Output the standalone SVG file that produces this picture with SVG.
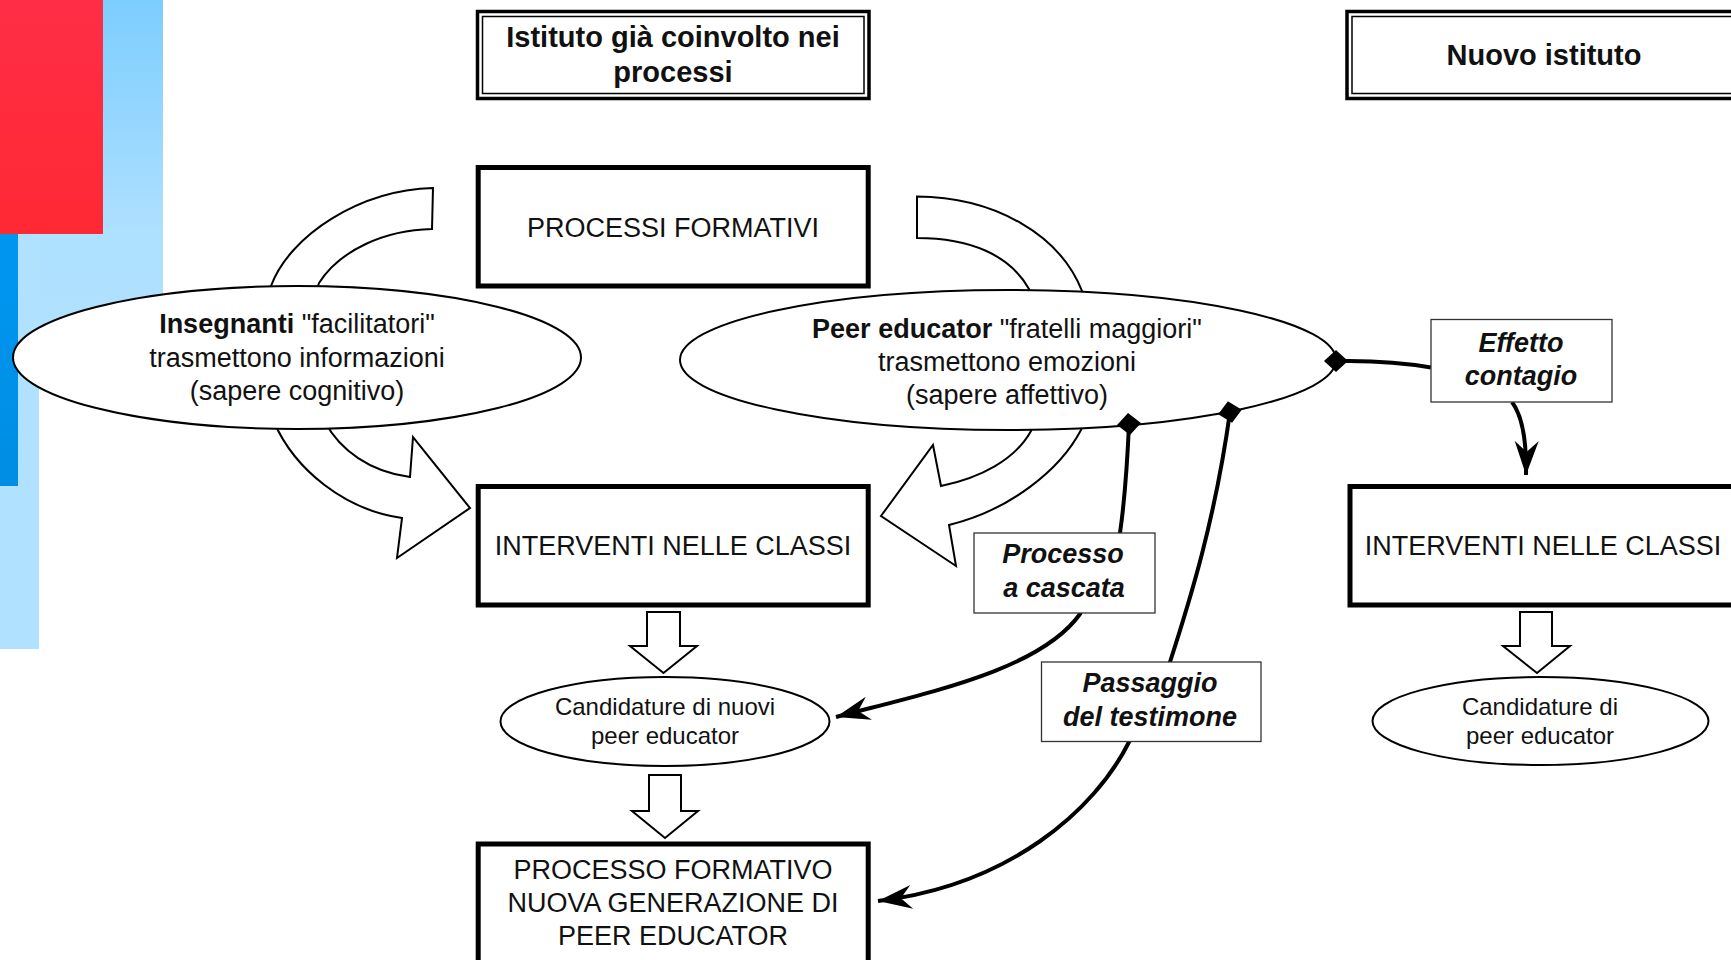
<svg xmlns="http://www.w3.org/2000/svg" width="1731" height="960" viewBox="0 0 1731 960">
<defs>
<linearGradient id="gBlueL" x1="0" y1="0" x2="0" y2="1">
<stop offset="0" stop-color="#7ccdff"/><stop offset="0.65" stop-color="#aee0ff"/><stop offset="1" stop-color="#b0e1ff"/>
</linearGradient>
<linearGradient id="gRed" x1="0" y1="0" x2="0" y2="1">
<stop offset="0" stop-color="#ff2e46"/><stop offset="1" stop-color="#ff2934"/>
</linearGradient>
<linearGradient id="gBlue" x1="0" y1="0" x2="0" y2="1">
<stop offset="0" stop-color="#0097f1"/><stop offset="1" stop-color="#008de3"/>
</linearGradient>
<marker id="ah" markerUnits="userSpaceOnUse" viewBox="-36 -14 38 28" refX="0" refY="0" markerWidth="38" markerHeight="28" orient="auto">
<path d="M0,0 L-34,-12 L-23,0 L-34,12 Z" fill="#000"/>
</marker>
</defs>
<style>
.box{fill:#fff;stroke:#000;stroke-width:5}
.ell{fill:#fff;stroke:#000;stroke-width:2}
.blk{fill:#fff;stroke:#000;stroke-width:2;stroke-linejoin:miter}
.lbl{fill:#fff;stroke:#333;stroke-width:1.3}
.con{fill:none;stroke:#000;stroke-width:4}
.dia{fill:#000}
text{font-family:"Liberation Sans",Arial,sans-serif;fill:#111;text-anchor:middle}
.t27{font-size:27px}
.t24{font-size:24px}
.ttl{font-size:29px;font-weight:bold}
.lab{font-size:27px;font-weight:bold;font-style:italic}
</style>
<rect width="1731" height="960" fill="#fff"/>
<g id="decoration">
<rect x="0" y="0" width="163" height="355" fill="url(#gBlueL)"/>
<rect x="0" y="0" width="39" height="649" fill="#b0e1ff"/>
<rect x="0" y="0" width="103" height="234" fill="url(#gRed)"/>
<rect x="0" y="234" width="18" height="252" fill="url(#gBlue)"/>
</g>
<g id="curved-arrows">
<path class="blk" d="M433,188 C360,190 290,235 271,286 C255,330 255,390 274,422 C295,470 345,510 402,518 L397,558 L470,508 L413,437 L410,477 C370,472 340,450 325,422 C305,385 305,320 319,283 C340,250 385,230 432,229 Z"/>
<path class="blk" d="M917,196.5 C995,197 1060,235 1082,291 C1100,340 1100,400 1081,430 C1060,470 1010,510 949,525 L956,566 L881,516 L933,445 L941,486 C980,478 1015,460 1031,431 C1050,390 1050,330 1029,289 C1010,255 970,238 917,238 Z"/>
</g>
<g id="title-left">
<rect x="477.5" y="11.5" width="391.5" height="87" fill="#fff" stroke="#000" stroke-width="3.5"/>
<rect x="482.5" y="16.5" width="381.5" height="77" fill="none" stroke="#000" stroke-width="1.5"/>
<text class="ttl" x="673" y="47">Istituto già coinvolto nei</text>
<text class="ttl" x="673" y="82">processi</text>
</g>
<g id="title-right">
<rect x="1347" y="11.5" width="420" height="87" fill="#fff" stroke="#000" stroke-width="3.5"/>
<rect x="1352" y="16.5" width="420" height="77" fill="none" stroke="#000" stroke-width="1.5"/>
<text class="ttl" x="1544" y="65">Nuovo istituto</text>
</g>
<g id="processi-formativi">
<rect class="box" x="478.2" y="167.5" width="390" height="118.5"/>
<text class="t27" x="673" y="236.5">PROCESSI FORMATIVI</text>
</g>
<g id="insegnanti">
<ellipse class="ell" cx="297" cy="357.5" rx="284" ry="71.5"/>
<text class="t27" x="297" y="332.5"><tspan font-weight="bold">Insegnanti</tspan> "facilitatori"</text>
<text class="t27" x="297" y="366.5">trasmettono informazioni</text>
<text class="t27" x="297" y="400">(sapere cognitivo)</text>
</g>
<g id="peer-educator">
<ellipse class="ell" cx="1008" cy="360" rx="328" ry="70"/>
<text class="t27" x="1007" y="337.5"><tspan font-weight="bold">Peer educator</tspan> "fratelli maggiori"</text>
<text class="t27" x="1007" y="371">trasmettono emozioni</text>
<text class="t27" x="1007" y="404">(sapere affettivo)</text>
</g>
<g id="interventi-left">
<rect class="box" x="478.2" y="486.5" width="390" height="118.5"/>
<text class="t27" x="673" y="555">INTERVENTI NELLE CLASSI</text>
</g>
<g id="interventi-right">
<rect class="box" x="1350" y="486.5" width="420" height="118.5"/>
<text class="t27" x="1543" y="555">INTERVENTI NELLE CLASSI</text>
</g>
<g id="candidature-nuovi">
<ellipse class="ell" cx="665" cy="721.5" rx="164.5" ry="44.5"/>
<text class="t24" x="665" y="715">Candidature di nuovi</text>
<text class="t24" x="665" y="744">peer educator</text>
</g>
<g id="candidature-right">
<ellipse class="ell" cx="1540.5" cy="721" rx="168" ry="44"/>
<text class="t24" x="1540" y="715">Candidature di</text>
<text class="t24" x="1540" y="744">peer educator</text>
</g>
<g id="processo-formativo">
<rect class="box" x="478.2" y="844" width="390" height="140"/>
<text class="t27" x="673" y="878.5">PROCESSO FORMATIVO</text>
<text class="t27" x="673" y="911.5">NUOVA GENERAZIONE DI</text>
<text class="t27" x="673" y="945">PEER EDUCATOR</text>
</g>
<g id="down-arrows">
<path class="blk" d="M647,612 L680,612 L680,646 L697,646 L663.5,673 L630,646 L647,646 Z"/>
<path class="blk" d="M649,775 L681,775 L681,811 L698,811 L665,838 L632,811 L649,811 Z"/>
<path class="blk" d="M1520,612 L1552,612 L1552,646 L1570,646 L1537,673 L1503,646 L1520,646 Z"/>
</g>
<g id="connectors">
<path class="con" d="M1336,361 Q1390,360 1431,367.5"/>
<path class="con" d="M1512,402 Q1527,422 1526,475" marker-end="url(#ah)"/>
<path class="con" d="M1129,424 C1127,470 1124,505 1120,533 L1080,614 C1040,670 930,692 836,717" marker-end="url(#ah)"/>
<path class="con" d="M1230,412 C1215,520 1190,600 1170,662 L1129,742 C1095,810 1010,885 878,901" marker-end="url(#ah)"/>
<polygon class="dia" points="-12,0 0,-11 12,0 0,11" transform="translate(1336,361)"/>
<polygon class="dia" points="-12,0 0,-11 12,0 0,11" transform="translate(1129,424) rotate(-5)"/>
<polygon class="dia" points="-12,0 0,-11 12,0 0,11" transform="translate(1230,412) rotate(-11)"/>
</g>
<g id="effetto-contagio">
<rect class="lbl" x="1431" y="319.5" width="181" height="82.5"/>
<text class="lab" x="1521" y="352">Effetto</text>
<text class="lab" x="1521" y="385">contagio</text>
</g>
<g id="processo-cascata">
<rect class="lbl" x="974" y="533" width="181" height="80"/>
<text class="lab" x="1063" y="563">Processo</text>
<text class="lab" x="1064" y="597">a cascata</text>
</g>
<g id="passaggio-testimone">
<rect class="lbl" x="1041.5" y="662" width="219.5" height="79.5"/>
<text class="lab" x="1150" y="692">Passaggio</text>
<text class="lab" x="1150" y="725.5">del testimone</text>
</g>
</svg>
